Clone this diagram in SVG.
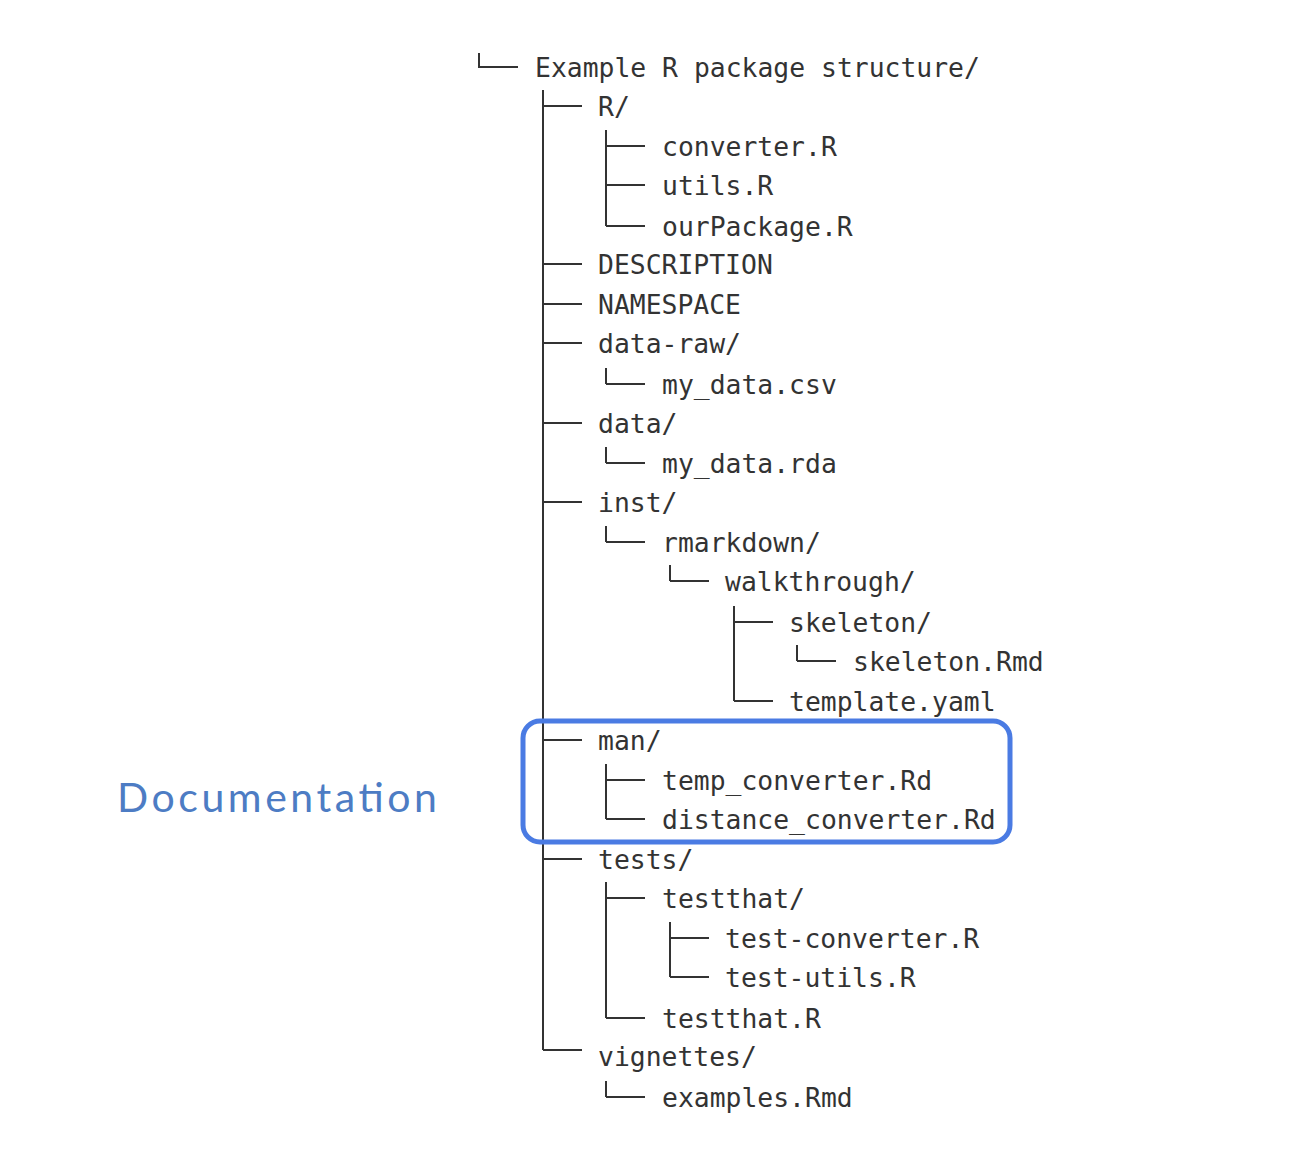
<svg xmlns="http://www.w3.org/2000/svg" width="1292" height="1170" viewBox="0 0 1292 1170">
<style>
.t{font-family:"DejaVu Sans Mono","Liberation Mono",monospace;font-size:26.4px;fill:#333}
.c line{stroke:#333;stroke-width:2}
</style>
<rect width="1292" height="1170" fill="#fff"/>
<g class="c" id="connectors">
<line x1="479" y1="53" x2="479" y2="67"/><line x1="478" y1="67" x2="518" y2="67"/>
<line x1="543" y1="90" x2="543" y2="1050"/>
<line x1="543" y1="106" x2="582" y2="106"/>
<line x1="543" y1="264" x2="582" y2="264"/>
<line x1="543" y1="304" x2="582" y2="304"/>
<line x1="543" y1="343" x2="582" y2="343"/>
<line x1="543" y1="423" x2="582" y2="423"/>
<line x1="543" y1="502" x2="582" y2="502"/>
<line x1="543" y1="740" x2="582" y2="740"/>
<line x1="543" y1="859" x2="582" y2="859"/>
<line x1="543" y1="1050" x2="582" y2="1050"/>
<line x1="606" y1="130" x2="606" y2="226"/>
<line x1="606" y1="146" x2="645" y2="146"/>
<line x1="606" y1="185" x2="645" y2="185"/>
<line x1="606" y1="226" x2="645" y2="226"/>
<line x1="606" y1="368" x2="606" y2="384"/><line x1="606" y1="384" x2="645" y2="384"/>
<line x1="606" y1="447" x2="606" y2="463"/><line x1="606" y1="463" x2="645" y2="463"/>
<line x1="606" y1="526" x2="606" y2="542"/><line x1="606" y1="542" x2="645" y2="542"/>
<line x1="606" y1="764" x2="606" y2="819"/><line x1="606" y1="780" x2="645" y2="780"/><line x1="606" y1="819" x2="645" y2="819"/>
<line x1="606" y1="882" x2="606" y2="1018"/><line x1="606" y1="898" x2="645" y2="898"/><line x1="606" y1="1018" x2="645" y2="1018"/>
<line x1="606" y1="1081" x2="606" y2="1097"/><line x1="606" y1="1097" x2="645" y2="1097"/>
<line x1="670" y1="565" x2="670" y2="581"/><line x1="670" y1="581" x2="709" y2="581"/>
<line x1="670" y1="922" x2="670" y2="977"/><line x1="670" y1="938" x2="709" y2="938"/><line x1="670" y1="977" x2="709" y2="977"/>
<line x1="734" y1="606" x2="734" y2="701"/><line x1="734" y1="622" x2="773" y2="622"/><line x1="734" y1="701" x2="773" y2="701"/>
<line x1="797" y1="645" x2="797" y2="661"/><line x1="797" y1="661" x2="836" y2="661"/>
</g>
<g id="n-root"><text class="t" x="535" y="77">Example R package structure/</text></g>
<g id="n-R"><text class="t" x="598" y="116">R/</text></g>
<g id="n-conv"><text class="t" x="662" y="156">converter.R</text></g>
<g id="n-utils"><text class="t" x="662" y="195">utils.R</text></g>
<g id="n-ourpkg"><text class="t" x="662" y="236">ourPackage.R</text></g>
<g id="n-desc"><text class="t" x="598" y="274">DESCRIPTION</text></g>
<g id="n-ns"><text class="t" x="598" y="314">NAMESPACE</text></g>
<g id="n-dataraw"><text class="t" x="598" y="353">data-raw/</text></g>
<g id="n-csv"><text class="t" x="662" y="394">my_data.csv</text></g>
<g id="n-data"><text class="t" x="598" y="433">data/</text></g>
<g id="n-rda"><text class="t" x="662" y="473">my_data.rda</text></g>
<g id="n-inst"><text class="t" x="598" y="512">inst/</text></g>
<g id="n-rmd"><text class="t" x="662" y="552">rmarkdown/</text></g>
<g id="n-walk"><text class="t" x="725" y="591">walkthrough/</text></g>
<g id="n-skel"><text class="t" x="789" y="632">skeleton/</text></g>
<g id="n-skelrmd"><text class="t" x="853" y="671">skeleton.Rmd</text></g>
<g id="n-tmpl"><text class="t" x="789" y="711">template.yaml</text></g>
<g id="n-man"><text class="t" x="598" y="750">man/</text></g>
<g id="n-temprd"><text class="t" x="662" y="790">temp_converter.Rd</text></g>
<g id="n-distrd"><text class="t" x="662" y="829">distance_converter.Rd</text></g>
<g id="n-tests"><text class="t" x="598" y="869">tests/</text></g>
<g id="n-testthat"><text class="t" x="662" y="908">testthat/</text></g>
<g id="n-tconv"><text class="t" x="725" y="948">test-converter.R</text></g>
<g id="n-tutils"><text class="t" x="725" y="987">test-utils.R</text></g>
<g id="n-testthatR"><text class="t" x="662" y="1028">testthat.R</text></g>
<g id="n-vig"><text class="t" x="598" y="1066">vignettes/</text></g>
<g id="n-ex"><text class="t" x="662" y="1107">examples.Rmd</text></g>
<g id="highlight"><rect x="523" y="721" width="487" height="121" rx="17" fill="none" stroke="#4a7be3" stroke-width="5"/></g>
<g id="label"><text x="117" y="812" font-family="Lato,'Open Sans',sans-serif" font-size="41" fill="#4d7cc4" textLength="320">Documentation</text></g>
</svg>
